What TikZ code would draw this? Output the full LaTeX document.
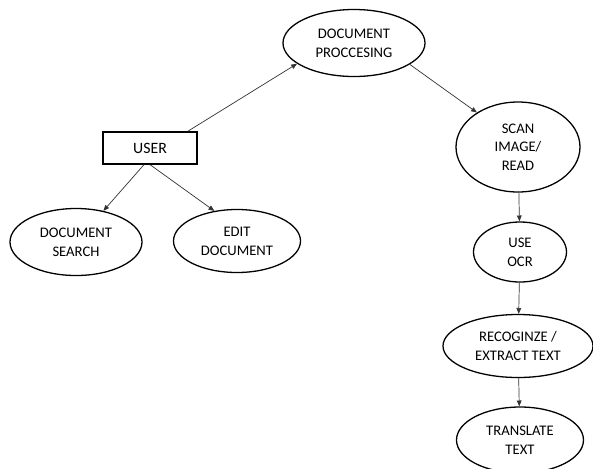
\documentclass[tikz,border=0pt]{standalone}
\usepackage{fontspec}
\setmainfont{Carlito}
\usepackage{tikz}
\usetikzlibrary{positioning,arrows.meta,shapes.geometric}

\begin{document}
\begin{tikzpicture}[
  x=0.03cm, y=-0.03cm,
  uc/.style={ellipse, draw=black, line width=1.1pt, inner sep=0pt,
             font=\fontsize{12.5}{16}\selectfont, align=center},
  actor/.style={rectangle, draw=black, line width=1.1pt,
                font=\fontsize{13.5}{16}\selectfont,
                minimum width=2.82cm, minimum height=0.96cm, align=center},
  ar/.style={-{Triangle[length=5pt,width=4pt]}, black!80, line width=0.6pt},
]
\useasboundingbox (0,0) rectangle (593,468);

\node[uc, minimum width=4.26cm, minimum height=2.01cm] (proc) at (354, 43) {DOCUMENT\\PROCCESING};
\node[actor] (user) at (150,148) {USER};

\node[uc, minimum width=3.96cm, minimum height=2.01cm] (srch) at ( 76,242) {DOCUMENT\\SEARCH};
\node[uc, minimum width=3.81cm, minimum height=1.89cm] (edit) at (237,241) {EDIT\\DOCUMENT};

\node[uc, minimum width=3.72cm, minimum height=2.70cm] (scan)  at (518,147) {SCAN\\IMAGE/\\READ};
\node[uc, minimum width=2.79cm, minimum height=1.80cm] (ocr)   at (520,252) {USE\\OCR};
\node[uc, minimum width=4.50cm, minimum height=1.89cm] (rec)   at (518,346) {RECOGINZE /\\EXTRACT TEXT};
\node[uc, minimum width=3.81cm, minimum height=1.98cm] (trans) at (520,440) {TRANSLATE\\TEXT};

\draw[ar] ([xshift=-0.3cm]user.north east) -- (proc.200);
\draw[ar] ([xshift=-0.18cm]user.south) -- (srch);
\draw[ar] (user.south) -- (edit.127);

\draw[ar] (proc.339) -- (scan.140);
\draw[ar] (scan) -- (ocr);
\draw[ar] (ocr) -- (rec);
\draw[ar] (rec) -- (trans);
\end{tikzpicture}
\end{document}
